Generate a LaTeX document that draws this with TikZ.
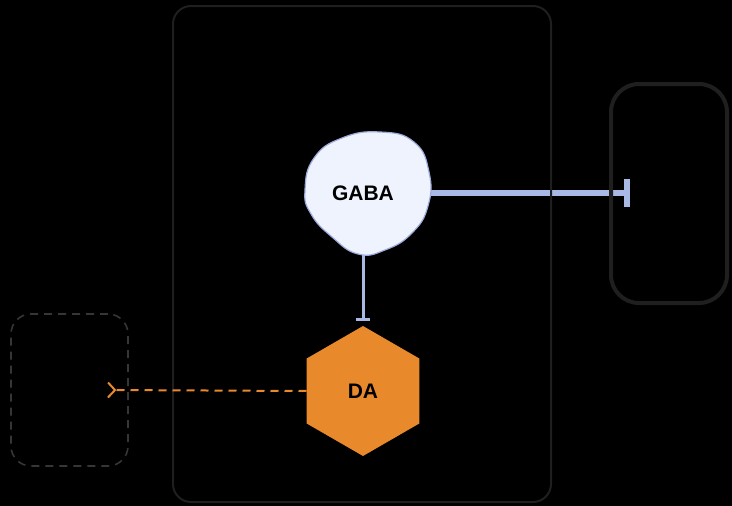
\documentclass[tikz,border=0pt]{standalone}
\usepackage{fontspec}
\setmainfont{Liberation Sans}
\usetikzlibrary{arrows.meta,shapes.geometric}
\pgfdeclarelayer{back}
\pgfsetlayers{back,main}
\definecolor{framegray}{HTML}{1F1F1F}
\definecolor{dashgray}{HTML}{363636}
\definecolor{gabafill}{HTML}{EEF3FD}
\definecolor{gabaline}{HTML}{9DAAD9}
\definecolor{inhibblue}{HTML}{A9B9E6}
\definecolor{daorange}{HTML}{E8892B}
\tikzstyle{label} = [font=\fontsize{21}{25}\selectfont\bfseries, text=black]
\tikzstyle{region} = [draw=framegray, line width=2pt, rectangle, rounded corners=18pt, inner sep=0pt]
\tikzstyle{target} = [region, line width=4pt, rounded corners=28pt]
\tikzstyle{source} = [region, draw=dashgray, line width=1.6pt, dash pattern=on 8pt off 6pt, rounded corners=20pt]
\tikzstyle{gababody} = [draw=gabaline, fill=gabafill, line width=1.2pt]
\tikzstyle{neuron} = [circle, inner sep=0pt, minimum size=124pt]
\tikzstyle{hexcell} = [regular polygon, regular polygon sides=6, shape border rotate=30, fill=daorange, inner sep=0pt, minimum size=130pt]
\tikzstyle{inhib} = [draw=inhibblue, line width=6pt]
\tikzstyle{project} = [draw=daorange, line width=2pt, dash pattern=on 8pt off 6pt]

\begin{document}
\begin{tikzpicture}[x=1pt, y=-1pt]
\begin{pgfonlayer}{back}
\fill[black] (0,0) rectangle (732,506);
\end{pgfonlayer}
\useasboundingbox (0,0) rectangle (732,506);

\node (area) [region, minimum width=378pt, minimum height=496pt] at (362,254) {};

\draw [gababody] plot[smooth cycle, tension=0.8] coordinates {(305,190) (314,158) (342,138) (380,132) (414,142) (429,172) (428,206) (412,233) (385,250) (358,254) (332,237) (311,214)};
\node (gaba) [neuron] at (363,193) {};
\node at (gaba) [label] {GABA};

\node (da) [hexcell] at (363,391) {};
\node at (da) [label] {DA};

\node (output) [target, minimum width=116pt, minimum height=219pt] at (669,193.5) {};
\node (input) [source, minimum width=117pt, minimum height=152pt] at (69.5,390) {};
\coordinate (blockpoint) at (630,193);
\coordinate (inport) at (107,390);

\begin{pgfonlayer}{back}
\draw [inhib, -{Bar[width=28pt]}] (gaba.east) -- (blockpoint);
\end{pgfonlayer}

\draw [inhib, line width=3pt, -{Bar[width=14pt]}, shorten >=5pt] (gaba.south) -- (da.north);

\draw [project, -{Straight Barb[reversed, length=7pt, width=15pt]}] (da.west) -- (inport);
\end{tikzpicture}
\end{document}
